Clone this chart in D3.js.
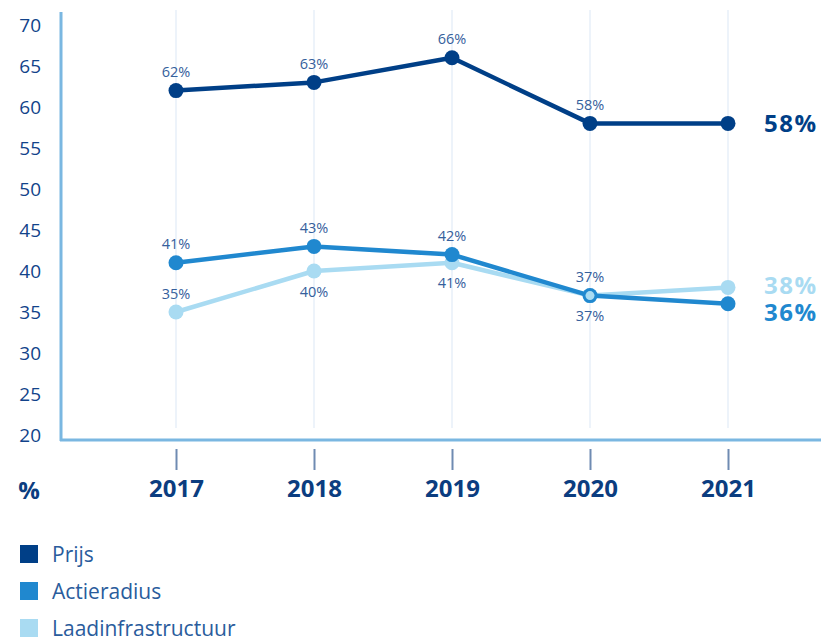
<!DOCTYPE html>
<html>
<head>
<meta charset="utf-8">
<script src="https://cdn.jsdelivr.net/npm/d3@7"></script>
<style>
  html, body { margin: 0; padding: 0; background: #fff; }
  svg { display: block; font-family: "Open Sans", "Noto Sans", sans-serif; }
</style>
</head>
<body>
<svg id="chart" width="821" height="640"></svg>
<script>
// Survey results per year (%)
const years = ["2017", "2018", "2019", "2020", "2021"];
const prijs = [62, 63, 66, 58, 58];
const actieradius = [41, 43, 42, 37, 36];
const laadinfrastructuur = [35, 40, 41, 37, 38];
const yTicks = [20, 25, 30, 35, 40, 45, 50, 55, 60, 65, 70];
const seriesNames = ["Prijs", "Actieradius", "Laadinfrastructuur"];

// Where each point label sits relative to its marker (null = no label, end label used)
const labelSide = {
  Prijs: ["above", "above", "above", "above", null],
  Actieradius: ["above", "above", "above", "above", null],
  Laadinfrastructuur: ["above", "below", "below", "below", null]
};

const colors = { Prijs: "#003f87", Actieradius: "#2088cf", Laadinfrastructuur: "#a9dbf2" };
const endLabelOffset = { Prijs: -1, Actieradius: 8, Laadinfrastructuur: -3 };

const series = [
  { name: "Laadinfrastructuur", values: laadinfrastructuur },
  { name: "Actieradius", values: actieradius },
  { name: "Prijs", values: prijs }
];

const svg = d3.select("#chart");

const x = d3.scalePoint().domain(years).range([176, 728]);
const y = d3.scaleLinear().domain([20, 70]).range([435, 25]);

// vertical guide lines
svg.append("g").selectAll("line").data(years).join("line")
  .attr("x1", d => x(d)).attr("x2", d => x(d))
  .attr("y1", 10).attr("y2", 428)
  .attr("stroke", "#edf3fa").attr("stroke-width", 2);

// y axis
const yAxis = d3.axisLeft(y).tickValues(yTicks).tickSize(0).tickPadding(0);
const gy = svg.append("g").attr("transform", "translate(41,0)").call(yAxis);
gy.select(".domain").remove();
gy.selectAll("text")
  .attr("font-size", 19).attr("fill", "#12438a")
  .attr("font-family", "'Open Sans', sans-serif");

// axis lines
svg.append("line").attr("x1", 61).attr("x2", 61).attr("y1", 12).attr("y2", 441)
  .attr("stroke", "#7ab7e1").attr("stroke-width", 3);
svg.append("line").attr("x1", 60).attr("x2", 821).attr("y1", 440).attr("y2", 440)
  .attr("stroke", "#7ab7e1").attr("stroke-width", 3);

// x axis with ticks below the baseline
const xAxis = d3.axisBottom(x).tickSize(21).tickPadding(10);
const gx = svg.append("g").attr("transform", "translate(0,449)").call(xAxis);
gx.select(".domain").remove();
gx.selectAll(".tick line").attr("stroke", "#6f8bb2").attr("stroke-width", 2);
gx.selectAll("text")
  .attr("font-size", 24).attr("font-weight", 700).attr("fill", "#0b3d80")
  .attr("font-family", "'Open Sans', sans-serif");

svg.append("text").attr("x", 29).attr("y", 499).attr("text-anchor", "middle")
  .attr("font-size", 24).attr("font-weight", 700).attr("fill", "#0b3d80").text("%");

// lines and markers
const line = d3.line().x((d, i) => x(years[i])).y(d => y(d));

series.forEach(s => {
  const g = svg.append("g");
  g.append("path").datum(s.values).attr("d", line)
    .attr("fill", "none").attr("stroke", colors[s.name]).attr("stroke-width", 4.5)
    .attr("stroke-linejoin", "round");
  g.selectAll("circle").data(s.values).join("circle")
    .attr("cx", (d, i) => x(years[i])).attr("cy", d => y(d)).attr("r", 7.5)
    .attr("fill", colors[s.name]);
});

// where Laadinfrastructuur coincides with Actieradius, show it as an inner dot
svg.append("g").selectAll("circle")
  .data(laadinfrastructuur.map((v, i) => ({ v, i })).filter(d => d.v === actieradius[d.i]))
  .join("circle")
  .attr("cx", d => x(years[d.i])).attr("cy", d => y(d.v)).attr("r", 4.5)
  .attr("fill", colors.Laadinfrastructuur);

// point value labels
series.forEach(s => {
  svg.append("g").selectAll("text")
    .data(s.values.map((v, i) => ({ v, i, side: labelSide[s.name][i] })).filter(d => d.side))
    .join("text")
    .attr("x", d => x(years[d.i]))
    .attr("y", d => y(d.v) + (d.side === "above" ? -19 : 20))
    .attr("text-anchor", "middle").attr("dominant-baseline", "central")
    .attr("font-size", 14.5).attr("fill", "#35609c")
    .text(d => d.v + "%");
});

// end-of-line labels
series.forEach(s => {
  const last = s.values[s.values.length - 1];
  svg.append("text")
    .attr("x", 764).attr("y", y(last) + endLabelOffset[s.name])
    .attr("dominant-baseline", "central")
    .attr("font-size", 24).attr("font-weight", 700).attr("letter-spacing", 1.5)
    .attr("fill", colors[s.name])
    .text(last + "%");
});

// legend
const legend = svg.append("g").selectAll("g").data(seriesNames).join("g")
  .attr("transform", (d, i) => `translate(20,${545 + i * 37})`);
legend.append("rect").attr("width", 18).attr("height", 18).attr("fill", d => colors[d]);
legend.append("text").attr("x", 32).attr("y", 9).attr("dominant-baseline", "central")
  .attr("font-size", 21).attr("fill", "#2a5c9c").text(d => d);
</script>
</body>
</html>
